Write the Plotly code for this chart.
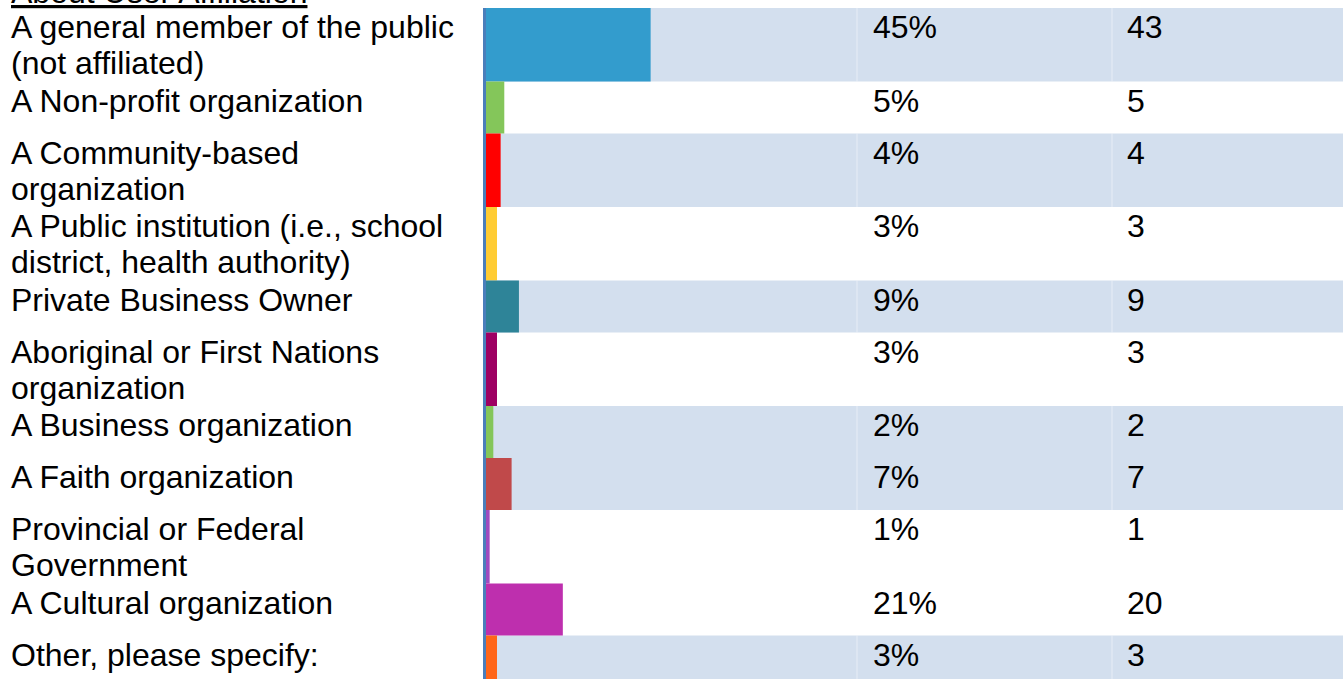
import plotly.graph_objects as go

# ---------------- data ----------------
labels = [
    "A general member of the public<br>(not affiliated)",
    "A Non-profit organization",
    "A Community-based<br>organization",
    "A Public institution (i.e., school<br>district, health authority)",
    "Private Business Owner",
    "Aboriginal or First Nations<br>organization",
    "A Business organization",
    "A Faith organization",
    "Provincial or Federal<br>Government",
    "A Cultural organization",
    "Other, please specify:",
]
percents = [45, 5, 4, 3, 9, 3, 2, 7, 1, 21, 3]
counts = [43, 5, 4, 3, 9, 3, 2, 7, 1, 20, 3]
title_text = "About User Affiliation"

# ---------------- style ----------------
bar_colors = ["#339CCD", "#84C65A", "#FF0000", "#FFCC33", "#2E8498", "#9E0063",
              "#84C65A", "#C0494A", "#A04AC0", "#BE2FAE", "#FF6619"]
row_shaded = [True, False, True, False, True, False, True, True, False, False, True]
W, H = 1343, 679
FONT = "Liberation Sans, Arial, sans-serif"
FS = 32
LINE_STEP = 36
ROW_H = {1: 52, 2: 73.5}
TOP0 = 8
BAR_X0, BAR_X1 = 486, 857
PCT_X, CNT_X = 871, 1125
LABEL_X = 8.5
BAND = "#D3DFEE"

# row geometry derived from the number of lines in each label
heights = [ROW_H[len(l.split("<br>"))] for l in labels]
tops = []
t = TOP0
for h in heights:
    tops.append(t)
    t += h
centers = [tp + h / 2 for tp, h in zip(tops, heights)]

fig = go.Figure()
fig.add_trace(go.Bar(
    orientation="h", x=percents, y=centers, width=heights, base=0,
    marker=dict(color=bar_colors, line=dict(width=0)),
    hoverinfo="skip", showlegend=False,
))

shapes = []
for tp, h, sh in zip(tops, heights, row_shaded):
    if sh:
        shapes.append(dict(type="rect", xref="paper", yref="y", x0=BAR_X0 / W, x1=1,
                           y0=tp, y1=tp + h, fillcolor=BAND, line=dict(width=0), layer="below"))
        for vx in (BAR_X1, 1112):
            shapes.append(dict(type="line", xref="paper", yref="y", x0=vx / W, x1=vx / W,
                               y0=tp, y1=tp + h, line=dict(color="rgba(255,255,255,0.45)", width=1),
                               layer="below"))
# left axis line
shapes.append(dict(type="line", xref="paper", yref="y", x0=484.5 / W, x1=484.5 / W,
                   y0=TOP0, y1=H, line=dict(color="#4A7EBB", width=3), layer="above"))

annotations = []
for tp, lab, p, c in zip(tops, labels, percents, counts):
    for j, line in enumerate(lab.split("<br>")):
        annotations.append(dict(text=line, xref="paper", yref="y", x=LABEL_X / W, y=tp - 1 + j * LINE_STEP,
                                xanchor="left", yanchor="top", showarrow=False,
                                font=dict(family=FONT, size=FS, color="black")))
    annotations.append(dict(text=f"{p}%", xref="paper", yref="y", x=PCT_X / W, y=tp - 1,
                            xanchor="left", yanchor="top", showarrow=False,
                            font=dict(family=FONT, size=FS, color="black")))
    annotations.append(dict(text=str(c), xref="paper", yref="y", x=CNT_X / W, y=tp - 1,
                            xanchor="left", yanchor="top", showarrow=False,
                            font=dict(family=FONT, size=FS, color="black")))
annotations.append(dict(text=f"<u>{title_text}</u>", xref="paper", yref="y", x=LABEL_X / W, y=12,
                        xanchor="left", yanchor="bottom", showarrow=False,
                        font=dict(family=FONT, size=FS, color="black")))

fig.update_layout(
    width=W, height=H, autosize=False,
    margin=dict(l=0, r=0, t=0, b=0, pad=0),
    paper_bgcolor="white", plot_bgcolor="rgba(0,0,0,0)",
    xaxis=dict(domain=[BAR_X0 / W, BAR_X1 / W], range=[0, 101.4], visible=False, fixedrange=True),
    yaxis=dict(domain=[0, 1], range=[H, 0], visible=False, fixedrange=True),
    shapes=shapes, annotations=annotations, showlegend=False,
)
fig.write_html("out.html", config={"displayModeBar": False},
               post_script="document.body.style.margin='0';document.body.style.overflow='hidden';")
